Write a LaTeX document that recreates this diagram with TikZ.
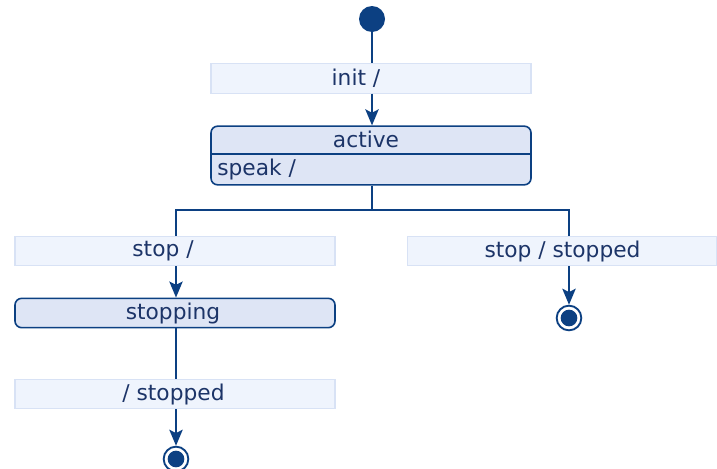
\documentclass[tikz,border=0pt]{standalone}
\usepackage{fontspec}
\setmainfont{DejaVu Sans}
\usetikzlibrary{arrows.meta}

\definecolor{navy}{RGB}{12,64,130}
\definecolor{inkblue}{RGB}{28,52,104}
\definecolor{statefill}{RGB}{222,229,245}
\definecolor{labelfill}{RGB}{239,244,253}
\definecolor{labeledge}{RGB}{216,226,245}

\tikzset{
  px/.style={x=0.75pt,y=-0.75pt},
  conn/.style={draw=navy,line width=1.5pt},
  arr/.style={conn,-{Stealth[length=12pt,width=10pt,inset=2.5pt]}},
  statebox/.style={draw=navy,fill=statefill,line width=1.2pt,rounded corners=5pt,
    inner sep=0pt,minimum width=240pt},
  labelbox/.style={draw=labeledge,fill=labelfill,line width=0.8pt,inner sep=0pt,
    minimum width=240pt,minimum height=22pt},
  txt/.style={text=inkblue,inner sep=0pt,font=\fontsize{16.3}{19}\selectfont},
  initdot/.style={circle,fill=navy,inner sep=0pt,minimum size=19.5pt},
  finalring/.style={circle,draw=navy,line width=1.4pt,fill=white,inner sep=0pt,minimum size=18.5pt},
  finaldot/.style={circle,fill=navy,inner sep=0pt,minimum size=12.5pt},
}

\begin{document}
\begin{tikzpicture}[px]
\useasboundingbox (0,0) rectangle (717,468);

% initial pseudostate
\node[initdot] (start) at (372,19) {};

% transition label boxes
\node[labelbox] (linit) at (371,78.5) {};
\node[txt] (tinit) at (356,78.5) {init /};

\node[labelbox] (lstop) at (175,251) {};
\node[txt] (tstop) at (163,251) {stop /};

\node[labelbox] (ldone) at (175,394) {};
\node[txt] (tdone) at (173.5,394) {/ stopped};

\node[labelbox,minimum width=232pt] (lstopped) at (562,251) {};
\node[txt] (tstopped) at (562.5,251) {stop / stopped};

% state "active" with its internal transition compartment
\node[statebox,minimum height=44pt] (active) at (371,155.5) {};
\coordinate (divl) at (211,154);
\coordinate (divr) at (531,154);
\draw[navy,line width=1.2pt] (divl) -- (divr);
\node[txt] (tactive) at (366,139) {active};
\node[txt,anchor=west] (tspeak) at (217,169.5) {speak /};

% state "stopping"
\node[statebox,minimum height=22pt] (stopping) at (175,313) {};
\node[txt] (tstopping) at (173,313) {stopping};

% final states
\node[finalring] (endL) at (176,459) {};
\node[finaldot] (endLdot) at (endL) {};
\node[finalring] (endR) at (569,318) {};
\node[finaldot] (endRdot) at (endR) {};

% branching point under "active"
\coordinate (fork) at (372,210);
\coordinate (forkL) at (176,210);
\coordinate (forkR) at (569,210);

% connectors
\draw[conn] (start) -- (linit.north -| start);
\draw[arr] (linit.south -| start) -- (active.north -| start);

\draw[conn] (active.south -| fork) -- (fork) -- (forkL) -- (lstop.north -| forkL);
\draw[conn] (fork) -- (forkR) -- (lstopped.north -| forkR);

\draw[arr] (lstop.south -| forkL) -- (stopping.north -| forkL);
\draw[conn] (stopping.south -| forkL) -- (ldone.north -| forkL);
\draw[arr] (ldone.south -| forkL) -- (endL.north);

\draw[arr] (lstopped.south -| forkR) -- (endR.north);
\end{tikzpicture}
\end{document}
